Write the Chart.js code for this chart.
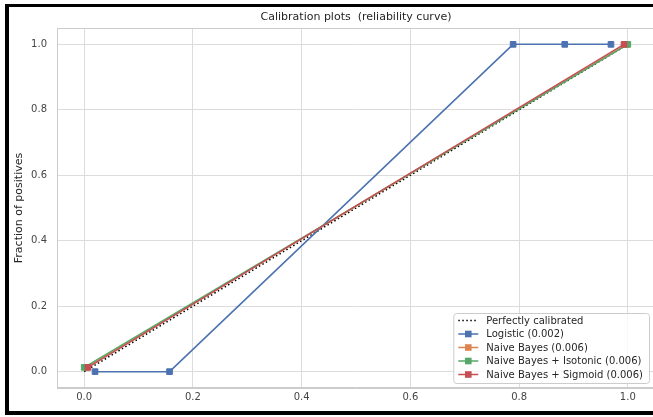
<!DOCTYPE html>
<html lang="en">
<head>
<meta charset="UTF-8">
<title>Calibration plots</title>
<script src="https://cdn.jsdelivr.net/npm/chart.js"></script>
<style>
  html, body { margin: 0; padding: 0; background: #fff; overflow: hidden; width: 653px; height: 417px; }
  #wrap { position: absolute; left: 0; top: 0; width: 653px; height: 417px; overflow: hidden; }
  #wrap canvas { position: absolute; left: 0; top: 0; }
  .bar { position: absolute; background: #000; }
</style>
</head>
<body>
<div id="wrap"><canvas id="calibChart" width="670" height="417"></canvas></div>
<!-- black screenshot frame -->
<div class="bar" style="left:5px;top:4px;width:4px;height:411px"></div>
<div class="bar" style="left:5px;top:4px;width:648px;height:3px"></div>
<div class="bar" style="left:5px;top:411px;width:648px;height:4px"></div>
<script>
// series names / values
const seriesNames = [
    'Perfectly calibrated',
    'Logistic (0.002)',
    'Naive Bayes (0.006)',
    'Naive Bayes + Isotonic (0.006)',
    'Naive Bayes + Sigmoid (0.006)'
];
const perfectX = [0, 1];
const perfectY = [0, 1];
const logisticX = [0.020, 0.157, 0.789, 0.884, 0.969];
const logisticY = [0, 0, 1, 1, 1];
const nbX = [0.004, 0.998];
const nbY = [0.013, 1.0];
const isoX = [0.0, 1.0];
const isoY = [0.013, 1.0];
const sigX = [0.007, 0.993];
const sigY = [0.013, 1.0];
const tickValues = [0, 0.2, 0.4, 0.6, 0.8, 1.0];

const colors = ['#000000', '#4C72B0', '#DD8452', '#55A868', '#C44E52'];

function pts(xs, ys) {
    return xs.map((x, i) => ({ x: x, y: ys[i] }));
}

Chart.defaults.font.family = '"DejaVu Sans", sans-serif';

function makeSeries(i, xs, ys) {
    return {
        label: seriesNames[i],
        data: pts(xs, ys),
        showLine: true,
        borderColor: colors[i],
        backgroundColor: colors[i],
        borderWidth: 1.5,
        pointStyle: 'rect',
        pointRadius: 4,
        pointBorderWidth: 1,
        pointBackgroundColor: colors[i],
        pointBorderColor: colors[i],
        order: 5 - i
    };
}

const datasets = [
    {
        label: seriesNames[0],
        data: pts(perfectX, perfectY),
        showLine: true,
        borderColor: colors[0],
        borderWidth: 1.5,
        borderDash: [1.5, 2.5],
        pointRadius: 0,
        order: 5
    },
    makeSeries(1, logisticX, logisticY),
    makeSeries(2, nbX, nbY),
    makeSeries(3, isoX, isoY),
    makeSeries(4, sigX, sigY)
];

// frame + title + legend inside the plot
const decorPlugin = {
    id: 'decor',
    beforeDatasetsDraw(chart) {
        const a = chart.chartArea, ctx = chart.ctx;
        ctx.save();
        ctx.strokeStyle = '#cccccc';
        ctx.lineWidth = 1;
        ctx.strokeRect(a.left + 0.5, a.top + 0.5, a.right - a.left - 1, a.bottom - a.top - 1);
        ctx.restore();
    },
    afterDatasetsDraw(chart) {
        const a = chart.chartArea, ctx = chart.ctx;
        const ds = chart.data.datasets;
        ctx.save();
        ctx.font = '10px "DejaVu Sans"';
        let maxW = 0;
        ds.forEach(d => { maxW = Math.max(maxW, ctx.measureText(d.label).width); });
        const w = 33 + maxW + 6;
        const rowH = 13.5;
        const h = 70;
        const x0 = a.right - 6 - w;
        const y0 = a.bottom - 5 - h;
        ctx.beginPath();
        ctx.roundRect(x0 + 0.5, y0 + 0.5, w, h, 3);
        ctx.fillStyle = 'rgba(255,255,255,0.8)';
        ctx.fill();
        ctx.strokeStyle = '#cccccc';
        ctx.lineWidth = 1;
        ctx.stroke();
        ds.forEach((d, i) => {
            const y = y0 + 7.5 + i * rowH;
            ctx.beginPath();
            ctx.setLineDash(d.borderDash || []);
            ctx.strokeStyle = d.borderColor;
            ctx.lineWidth = 1.5;
            ctx.moveTo(x0 + 5, y);
            ctx.lineTo(x0 + 25, y);
            ctx.stroke();
            ctx.setLineDash([]);
            if (d.pointRadius) {
                ctx.fillStyle = d.borderColor;
                ctx.fillRect(x0 + 15 - 3.3, y - 3.3, 6.6, 6.6);
            }
            ctx.fillStyle = '#262626';
            ctx.textAlign = 'left';
            ctx.textBaseline = 'middle';
            ctx.fillText(d.label, x0 + 33, y + 0.5);
        });
        ctx.restore();
    },
    afterDraw(chart) {
        const a = chart.chartArea, ctx = chart.ctx;
        ctx.save();
        ctx.font = '11px "DejaVu Sans"';
        ctx.fillStyle = '#262626';
        ctx.textAlign = 'center';
        ctx.textBaseline = 'middle';
        ctx.fillText('Calibration plots  (reliability curve)', (a.left + a.right) / 2, 17);
        ctx.restore();
    }
};

function axis(extra) {
    return Object.assign({
        type: 'linear',
        min: -0.05,
        max: 1.05,
        afterBuildTicks: s => { s.ticks = tickValues.map(v => ({ value: v })); },
        grid: { color: '#dcdcdc', lineWidth: 1, drawTicks: false },
        border: { color: '#cccccc', width: 1 }
    }, extra);
}

const ctx = document.getElementById('calibChart').getContext('2d');
new Chart(ctx, {
    type: 'scatter',
    data: { datasets: datasets },
    options: {
        responsive: false,
        animation: false,
        devicePixelRatio: 1,
        layout: { padding: { top: 28, right: 15, bottom: 0, left: 0 } },
        plugins: {
            legend: { display: false },
            tooltip: { enabled: false },
            title: { display: false }
        },
        scales: {
            x: axis({
                position: 'bottom',
                afterFit: s => { s.height = 29; },
                ticks: { callback: v => v.toFixed(1), font: { size: 10 }, color: '#444444', padding: 3 }
            }),
            y: axis({
                position: 'left',
                afterFit: s => { s.width = 57; },
                ticks: { callback: v => v.toFixed(1), font: { size: 10 }, color: '#444444', padding: 10 },
                title: {
                    display: true,
                    text: 'Fraction of positives',
                    font: { size: 11 },
                    color: '#262626',
                    padding: { top: 13, bottom: 0 }
                }
            })
        }
    },
    plugins: [decorPlugin]
});
</script>
</body>
</html>
